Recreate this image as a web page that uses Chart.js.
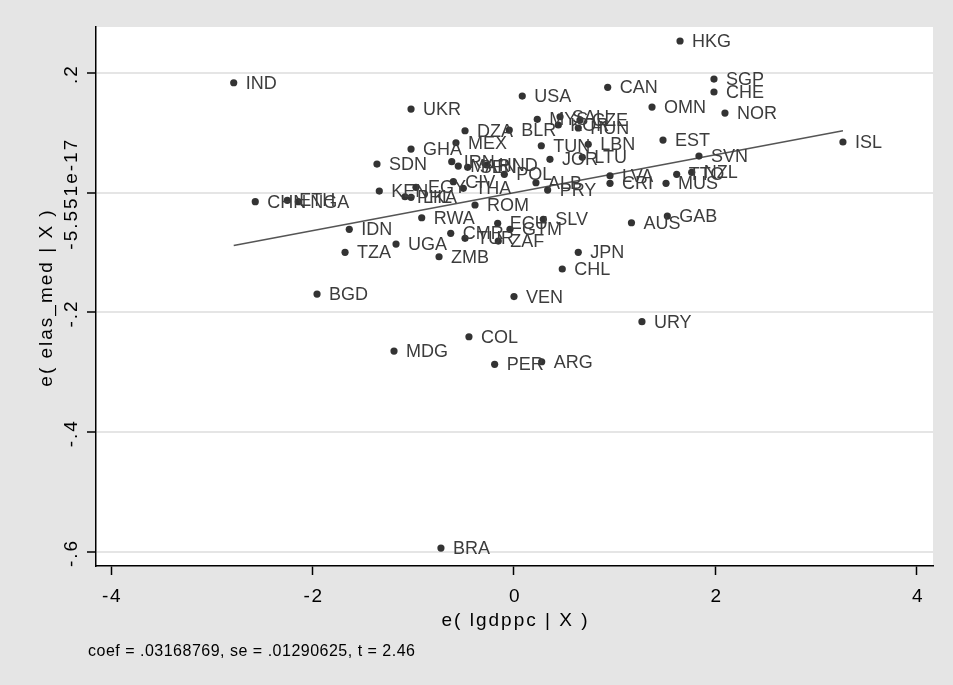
<!DOCTYPE html>
<html>
<head>
<meta charset="utf-8">
<script src="https://cdn.jsdelivr.net/npm/chart.js@4/dist/chart.umd.min.js"></script>
<style>
html, body { margin: 0; padding: 0; background: #e5e5e5; }
canvas { display: block; }
</style>
</head>
<body>
<canvas id="chart1" width="953" height="685"></canvas>
<script>
// added-variable plot: residuals of elas_med vs residuals of lgdppc
var countries = ['HKG','SGP','CHE','NOR','ISL','CAN','OMN','EST','SVN','TTO','NZL','MUS','LVA','CRI',
	'GAB','AUS','JPN','CHL','VEN','URY','COL','PER','ARG','MDG','BRA','BGD','IND','CHN','ETH','NGA',
	'SDN','KEN','PHL','LKA','EGY','CIV','THA','ROM','RWA','IDN','TZA','UGA','CMR','ZMB','TUR','ECU',
	'GTM','ZAF','SLV','UKR','USA','DZA','BLR','MYS','SAU','CZE','KOR','HUN','MEX','GHA','TUN','LBN',
	'JOR','LTU','IRN','MAR','SEN','HND','POL','ALB','PRY'];
var xResid = [1.648,1.985,1.985,2.094,3.265,0.930,1.370,1.479,1.836,1.615,1.764,1.509,0.953,0.953,
	1.522,1.166,0.638,0.479,0.000,1.270,-0.447,-0.192,0.275,-1.191,-0.725,-1.955,-2.782,-2.568,-2.250,-2.141,
	-1.360,-1.337,-1.082,-1.022,-0.973,-0.602,-0.503,-0.387,-0.916,-1.635,-1.677,-1.171,-0.628,-0.744,-0.486,-0.162,
	-0.040,-0.156,0.291,-1.022,0.082,-0.486,-0.047,0.231,0.457,0.655,0.440,0.638,-0.576,-1.022,0.271,0.737,
	0.357,0.678,-0.618,-0.553,-0.460,-0.271,-0.096,0.218,0.334];
var yResid = [0.2534,0.1899,0.1682,0.1331,0.0847,0.1760,0.1431,0.0880,0.0613,0.0307,0.0341,0.0157,0.0284,0.0157,
	-0.0389,-0.0501,-0.0995,-0.1274,-0.1734,-0.2154,-0.2405,-0.2866,-0.2823,-0.2644,-0.5934,-0.1692,0.1837,-0.0150,-0.0127,-0.0150,
	0.0479,0.0028,-0.0067,-0.0077,0.0090,0.0184,0.0073,-0.0205,-0.0418,-0.0611,-0.0995,-0.0857,-0.0678,-0.1069,-0.0762,-0.0511,
	-0.0611,-0.0807,-0.0444,0.1398,0.1615,0.1035,0.1047,0.1226,0.1269,0.1214,0.1131,0.1081,0.0835,0.0730,0.0785,0.0808,
	0.0558,0.0591,0.0518,0.0446,0.0424,0.0463,0.0307,0.0167,0.0045];
var fitX = [-2.782, 3.265];
var fitY = [-0.0882, 0.1035];
var xTicks = [-4, -2, 0, 2, 4];
var xTickLabels = ['-4', '-2', '0', '2', '4'];
var yTicks = [-0.6, -0.4, -0.2, 0, 0.2];
var yTickLabels = ['-.6', '-.4', '-.2', '-5.551e-17', '.2'];
var xTitle = 'e( lgdppc | X )';
var yTitle = 'e( elas_med | X )';
var note = 'coef = .03168769, se = .01290625, t = 2.46';

var points = countries.map(function(c, i) {
	return { x: xResid[i], y: yResid[i] };
});
var fitLine = fitX.map(function(v, i) {
	return { x: v, y: fitY[i] };
});

var stataDecor = {
	id: 'stataDecor',
	beforeDraw: function(chart) {
		var ctx = chart.ctx, a = chart.chartArea;
		ctx.save();
		ctx.fillStyle = '#e5e5e5';
		ctx.fillRect(0, 0, chart.width, chart.height);
		ctx.fillStyle = '#ffffff';
		ctx.fillRect(a.left, a.top, a.right - a.left, a.bottom - a.top);
		ctx.restore();
	},
	afterDatasetsDraw: function(chart) {
		var ctx = chart.ctx;
		var meta = chart.getDatasetMeta(0);
		ctx.save();
		ctx.font = '18px "Liberation Sans", Arial, sans-serif';
		ctx.fillStyle = '#3c3c3c';
		ctx.textBaseline = 'middle';
		ctx.textAlign = 'left';
		meta.data.forEach(function(pt, i) {
			ctx.fillText(countries[i], pt.x + 12, pt.y + 1);
		});
		ctx.restore();
	},
	afterDraw: function(chart) {
		var ctx = chart.ctx, a = chart.chartArea;
		var xs = chart.scales.x, ys = chart.scales.y;
		ctx.save();
		ctx.fillStyle = '#000';
		ctx.font = '19px "Liberation Sans", Arial, sans-serif';
		ctx.textAlign = 'center';
		ctx.textBaseline = 'alphabetic';
		ctx.letterSpacing = '1.5px';
		xTicks.forEach(function(v, i) {
			ctx.fillText(xTickLabels[i], xs.getPixelForValue(v) + 1, a.bottom + 36);
		});
		ctx.letterSpacing = '2px';
		yTicks.forEach(function(v, i) {
			ctx.save();
			ctx.translate(a.left - 19, ys.getPixelForValue(v) + 1);
			ctx.rotate(-Math.PI / 2);
			ctx.fillText(yTickLabels[i], 0, 0);
			ctx.restore();
		});
		ctx.letterSpacing = '2px';
		ctx.fillText(xTitle, (a.left + a.right) / 2 + 1, a.bottom + 60);
		ctx.save();
		ctx.translate(a.left - 44, (a.top + a.bottom) / 2 + 1);
		ctx.rotate(-Math.PI / 2);
		ctx.fillText(yTitle, 0, 0);
		ctx.restore();
		ctx.font = '16px "Liberation Sans", Arial, sans-serif';
		ctx.letterSpacing = '0.5px';
		ctx.textAlign = 'left';
		ctx.fillText(note, 88, a.bottom + 90);
		ctx.restore();
	}
};

var ctx = document.getElementById('chart1').getContext('2d');
new Chart(ctx, {
	type: 'scatter',
	data: {
		datasets: [{
			label: 'countries',
			data: points,
			pointRadius: 3.6,
			pointBackgroundColor: '#333333',
			pointBorderWidth: 0
		}, {
			type: 'line',
			label: 'fit',
			data: fitLine,
			borderColor: '#555555',
			borderWidth: 1.6,
			pointRadius: 0,
			fill: false
		}]
	},
	options: {
		responsive: false,
		animation: false,
		layout: { padding: { left: 87, right: 20, top: 27, bottom: 110 } },
		plugins: { legend: { display: false }, tooltip: { enabled: false } },
		scales: {
			x: {
				type: 'linear',
				min: -4.149,
				max: 4.159,
				afterBuildTicks: function(scale) {
					scale.ticks = xTicks.map(function(v) { return { value: v }; });
				},
				ticks: { display: false },
				grid: { drawOnChartArea: false, drawTicks: true, tickLength: 9, tickColor: '#000', tickWidth: 1.5 },
				border: { display: true, color: '#000', width: 1.5 }
			},
			y: {
				type: 'linear',
				min: -0.6234,
				max: 0.2768,
				afterBuildTicks: function(scale) {
					scale.ticks = yTicks.map(function(v) { return { value: v }; });
				},
				ticks: { display: false },
				grid: { drawOnChartArea: true, color: '#e5e5e5', lineWidth: 2, drawTicks: true, tickLength: 9, tickColor: '#000', tickWidth: 1.5 },
				border: { display: true, color: '#000', width: 1.5 }
			}
		}
	},
	plugins: [stataDecor]
});
</script>
</body>
</html>
